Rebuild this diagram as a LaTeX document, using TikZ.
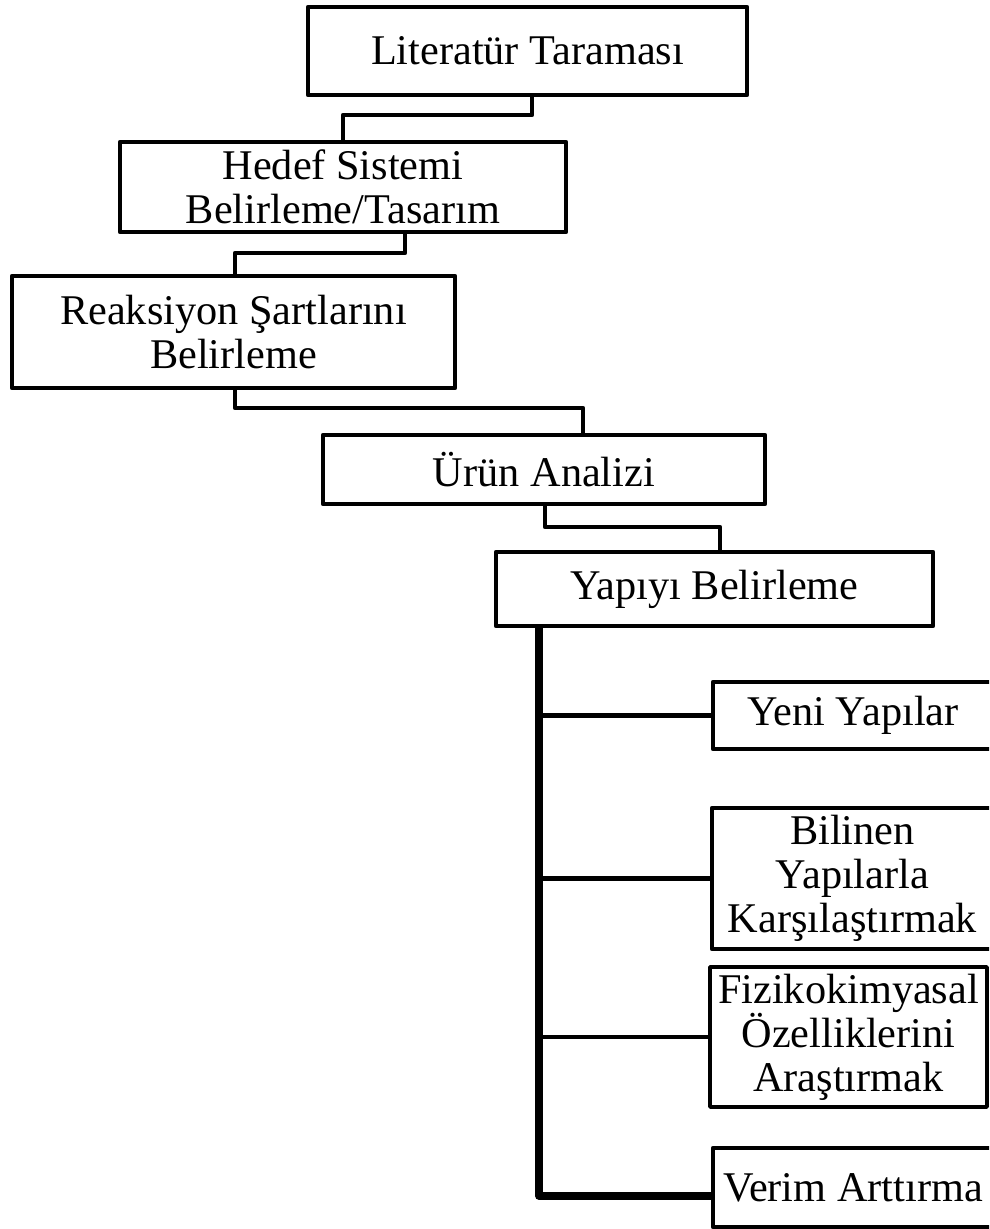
\documentclass[tikz,border=0pt]{standalone}
\usepackage{fontspec}
\setmainfont{Liberation Serif}
\begin{document}
\begin{tikzpicture}[x=1pt,y=-1pt,
  box/.style={draw=black,line width=4.5pt,fill=white,inner sep=0pt,align=center,
    font=\fontsize{42.3}{44}\selectfont,line join=round},
  conn/.style={draw=black,line width=4.5pt,line join=round,line cap=round},
  trunk/.style={draw=black,line width=7.5pt,line join=round,line cap=round}]
\useasboundingbox (0,0) rectangle (989,1229);
\clip (0,0) rectangle (989,1229);
% boxes
\node[box,minimum width=439pt,minimum height=88pt] (b1) at (527.5,51) {Literatür Taraması};
\node[box,minimum width=446pt,minimum height=90pt] (b2) at (343,187) {Hedef Sistemi\\Belirleme/Tasarım};
\node[box,minimum width=443pt,minimum height=112pt] (b3) at (233.5,332) {Reaksiyon Şartlarını\\Belirleme};
\node[box,minimum width=442pt,minimum height=69pt] (b4) at (544,469.5) {Ürün Analizi};
\node[box,minimum width=437pt,minimum height=74pt] (b5) at (714.5,589) {Yapıyı Belirleme};
\node[box,minimum width=280pt,minimum height=67pt] (y1) at (853,715.5) {Yeni Yapılar};
\node[box,minimum width=281pt,minimum height=141pt] (y2) at (852.5,878.5) {Bilinen\\Yapılarla\\Karşılaştırmak};
\node[box,line width=3.5pt,minimum width=277pt,minimum height=140pt] (y3) at (848.5,1037) {Fizikokimyasal\\Özelliklerini\\Araştırmak};
\node[box,minimum width=280pt,minimum height=79pt] (y4) at (853,1187.5) {Verim Arttırma};
% connectors between main steps
\coordinate (k1) at (532,115);
\coordinate (k2) at (343,115);
\draw[conn] (b1.south -| k1) -- (k1) -- (k2) -- (b2.north -| k2);
\coordinate (k3) at (405,253);
\coordinate (k4) at (235,253);
\draw[conn] (b2.south -| k3) -- (k3) -- (k4) -- (b3.north -| k4);
\coordinate (k5) at (235,408);
\coordinate (k6) at (583,408);
\draw[conn] (b3.south -| k5) -- (k5) -- (k6) -- (b4.north -| k6);
\coordinate (k7) at (545,527);
\coordinate (k8) at (720,527);
\draw[conn] (b4.south -| k7) -- (k7) -- (k8) -- (b5.north -| k8);
% trunk and branches
\coordinate (t0) at (539,1196);
\draw[trunk] (b5.south -| t0) -- (t0) -- (y4.west |- t0);
\draw[conn] (t0 |- y1.west) -- (y1.west);
\draw[conn] (t0 |- y2.west) -- (y2.west);
\draw[conn] (t0 |- y3.west) -- (y3.west);
\end{tikzpicture}
\end{document}
